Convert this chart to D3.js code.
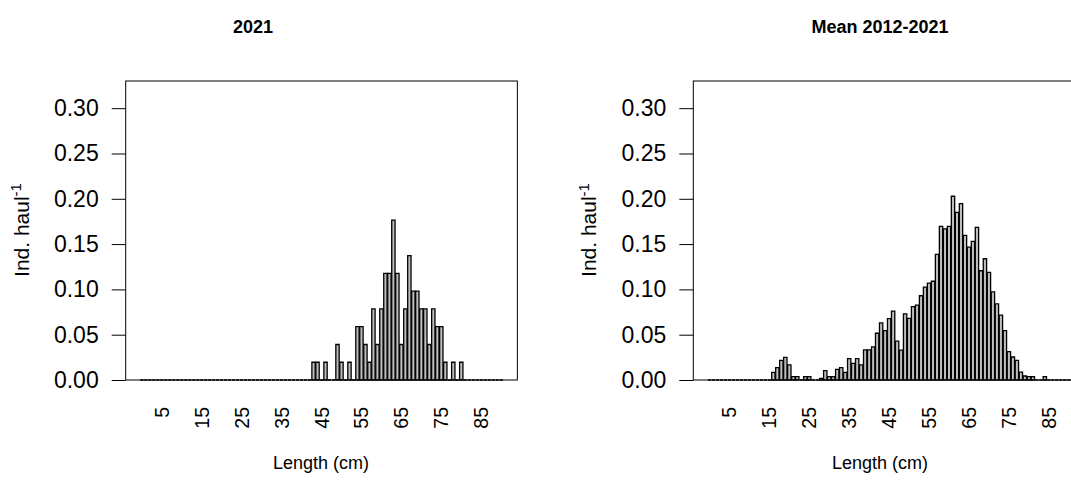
<!DOCTYPE html>
<html>
<head>
<meta charset="utf-8">
<script src="https://cdn.jsdelivr.net/npm/d3@7"></script>
<style>
  html, body { margin: 0; padding: 0; background: #fff; }
  svg { display: block; font-family: "Liberation Sans", Arial, Helvetica, sans-serif; }
</style>
</head>
<body>
<svg id="chart" width="1071" height="496"></svg>
<script>
// Length classes (cm), one bar per class
const lengths = d3.range(0, 91);

// Ind. haul^-1 per length class, 2021
const values2021 = [
  0, 0, 0, 0, 0, 0, 0, 0, 0, 0,
  0, 0, 0, 0, 0, 0, 0, 0, 0, 0,
  0, 0, 0, 0, 0, 0, 0, 0, 0, 0,
  0, 0, 0, 0, 0, 0, 0, 0, 0, 0,
  0, 0, 0, 0.0196, 0.0196, 0, 0.0196, 0, 0, 0.0392,
  0.0196, 0, 0.0196, 0, 0.0588, 0.0588, 0.0392, 0.0196, 0.0784, 0.0392,
  0.0784, 0.1176, 0.1176, 0.1765, 0.1176, 0.0392, 0.0784, 0.1373, 0.0980, 0.0980,
  0.0784, 0.0784, 0.0392, 0.0784, 0.0588, 0.0588, 0.0196, 0, 0.0196, 0,
  0.0196, 0, 0, 0, 0, 0, 0, 0, 0, 0,
  0
];

// Ind. haul^-1 per length class, mean of 2012-2021
const valuesMean = [
  0, 0, 0, 0, 0, 0, 0, 0, 0, 0,
  0, 0, 0, 0, 0, 0, 0.0085, 0.0136, 0.0217, 0.0250,
  0.0166, 0.0037, 0.0037, 0, 0.0037, 0.0037, 0, 0, 0.0018, 0.0103,
  0.0037, 0.0037, 0.0118, 0.0136, 0.0085, 0.0236, 0.0184, 0.0236, 0.0166, 0.0332,
  0.0332, 0.0365, 0.0516, 0.0630, 0.0546, 0.0678, 0.0760, 0.0430, 0.0330, 0.0730,
  0.0680, 0.0810, 0.0826, 0.0930, 0.1025, 0.1070, 0.1090, 0.1386, 0.1696, 0.1667,
  0.1696, 0.2028, 0.1850, 0.1947, 0.1597, 0.1467, 0.1530, 0.1685, 0.1206, 0.1338,
  0.1187, 0.0973, 0.0840, 0.0715, 0.0546, 0.0313, 0.0254, 0.0217, 0.0088, 0.0044,
  0.0037, 0.0037, 0, 0, 0.0037, 0, 0, 0, 0, 0,
  0
];

// Axis labelling
const yTicks = [0, 0.05, 0.10, 0.15, 0.20, 0.25, 0.30];
const xTickLengths = [5, 15, 25, 35, 45, 55, 65, 75, 85];
const yDomain = [0, 0.33];

const panels = [
  { title: "2021", values: values2021, left: 125.7, titleX: 253, xLabelX: 321 },
  { title: "Mean 2012-2021", values: valuesMean, left: 693.3, titleX: 880, xLabelX: 880 }
];

const svg = d3.select("#chart");
const plotTop = 81, plotBottom = 380;
const barW = 1, space = 0.2;          // barplot-style units
const n = lengths.length;
const span = (barW + space) * n - space; // from first bar's left to last bar's right
const pad = 0.04 * span;
const unitPx = 3.327;                    // pixels per barplot unit
const plotW = (span + 2 * pad) * unitPx;

panels.forEach(p => {
  const g = svg.append("g");
  const x = d3.scaleLinear()
    .domain([space - pad, (barW + space) * n + pad])
    .range([p.left, p.left + plotW]);
  const y = d3.scaleLinear().domain(yDomain).range([plotBottom, plotTop]);

  const barLeft = i => (barW + space) * (i + 1) - barW;
  const barRight = i => (barW + space) * (i + 1);
  const barMid = i => (barLeft(i) + barRight(i)) / 2;

  // bars (paths so zero-height bars still show their outline)
  g.append("g").selectAll("path")
    .data(lengths)
    .join("path")
    .attr("d", (L, i) => {
      const x0 = x(barLeft(i)), x1 = x(barRight(i));
      const y0 = y(0), y1 = y(p.values[i]);
      return `M${x0},${y0}H${x1}V${y1}H${x0}Z`;
    })
    .attr("fill", "#bebebe")
    .attr("stroke", "#000")
    .attr("stroke-width", 1.3);

  // plot frame
  g.append("rect")
    .attr("x", p.left).attr("y", plotTop)
    .attr("width", plotW).attr("height", plotBottom - plotTop)
    .attr("fill", "none").attr("stroke", "#000").attr("stroke-width", 1);

  // y axis
  const yAxis = d3.axisLeft(y).tickValues(yTicks).tickFormat(d3.format(".2f"))
    .tickSize(14).tickPadding(13);
  const ya = g.append("g").attr("transform", `translate(${p.left},0)`).call(yAxis);
  ya.select(".domain").remove();
  ya.selectAll(".tick line").attr("stroke", "#000").attr("stroke-width", 1);
  ya.selectAll(".tick text")
    .attr("fill", "#000")
    .style("font-size", "23px")
    .style("font-family", "'Liberation Sans', Arial, sans-serif");

  // x tick labels, perpendicular to the axis
  g.append("g").selectAll("text")
    .data(xTickLengths)
    .join("text")
    .attr("transform", L => `translate(${x(barMid(lengths.indexOf(L)))},407) rotate(-90)`)
    .attr("text-anchor", "end")
    .attr("dy", "0.36em")
    .style("font-size", "19.5px")
    .text(L => L);

  // x axis title
  g.append("text")
    .attr("x", p.xLabelX).attr("y", 469)
    .attr("text-anchor", "middle")
    .style("font-size", "18px")
    .text("Length (cm)");

  // y axis title with superscript
  const yl = g.append("text")
    .attr("transform", `translate(${p.left - 97},230) rotate(-90)`)
    .attr("text-anchor", "middle")
    .style("font-size", "21px");
  yl.append("tspan").text("Ind. haul");
  yl.append("tspan").attr("dy", "-0.5em").style("font-size", "15px").text("-1");

  // panel title
  g.append("text")
    .attr("x", p.titleX).attr("y", 33)
    .attr("text-anchor", "middle")
    .style("font-size", "18px")
    .style("font-weight", "bold")
    .text(p.title);
});
</script>
</body>
</html>
